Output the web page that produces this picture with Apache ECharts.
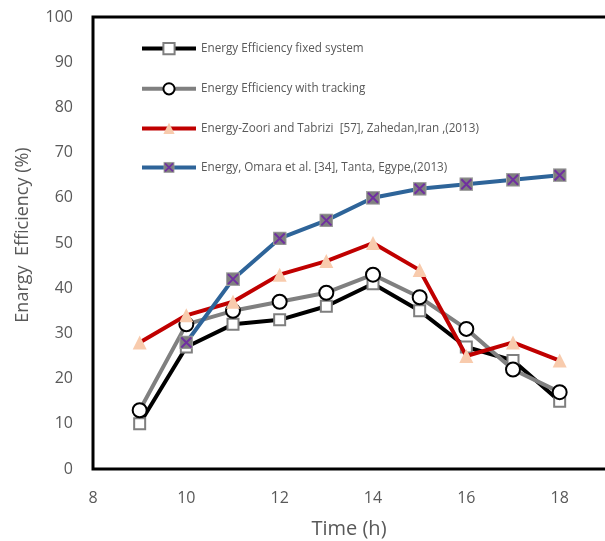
<!DOCTYPE html>
<html>
<head>
<meta charset="utf-8">
<script src="https://cdn.jsdelivr.net/npm/echarts@6/dist/echarts.min.js"></script>
<style>html,body{margin:0;padding:0;background:#fff;overflow:hidden;width:605px;height:541px}#c{width:700px;height:541px}</style>
</head>
<body>
<div id="c"></div>
<script>
const hours = [9, 10, 11, 12, 13, 14, 15, 16, 17, 18];
const fixedSystem = [10, 27, 32, 33, 36, 41, 35, 27, 24, 15];
const withTracking = [13, 32, 35, 37, 39, 43, 38, 31, 22, 17];
const zoori = [28, 34, 37, 43, 46, 50, 44, 25, 28, 24];
const omara = [null, 28, 42, 51, 55, 60, 62, 63, 64, 65];
const seriesNames = [
  'Energy Efficiency fixed system',
  'Energy Efficiency with tracking',
  'Energy-Zoori and Tabrizi  [57], Zahedan,Iran ,(2013)',
  'Energy, Omara et al. [34], Tanta, Egype,(2013)'
];
const yTicks = [0, 10, 20, 30, 40, 50, 60, 70, 80, 90, 100];

function pairs(vals) { return hours.map((h, i) => [h, vals[i]]).filter(p => p[1] !== null); }

const svg = "<svg xmlns='http://www.w3.org/2000/svg' width='14' height='14'><rect x='0.5' y='0.5' width='13' height='13' fill='#7f7f7f' stroke='#a6a6a6' stroke-width='1'/><path d='M2 2L12 12M12 2L2 12' stroke='#7030a0' stroke-width='2'/></svg>";
const omaraSymbol = 'image://data:image/svg+xml;charset=utf-8,' + encodeURIComponent(svg);

const chart = echarts.init(document.getElementById('c'));
const font = 'Open Sans';
chart.setOption({
  animation: false,
  grid: { left: 93, top: 17, width: 560, height: 452, show: true, borderColor: '#000', borderWidth: 3,
          containLabel: false, outerBoundsMode: 'none' },
  legend: {
    orient: 'vertical', left: 135, top: 37, itemWidth: 54, itemHeight: 14, itemGap: 27,
    textStyle: { fontFamily: font, fontSize: 11.7, color: '#595959' },
    lineStyle: { width: 4 },
    data: seriesNames
  },
  xAxis: {
    type: 'value', min: 8, max: 20, interval: 2,
    axisLine: { show: false }, axisTick: { show: false }, splitLine: { show: false },
    axisLabel: { fontFamily: font, fontSize: 16, color: '#595959', margin: 21 },
    name: 'Time (h)', nameLocation: 'middle', nameGap: 50,
    nameTextStyle: { fontFamily: font, fontSize: 20, color: '#595959', padding: [0, 48, 0, 0] }
  },
  yAxis: {
    type: 'value', min: 0, max: 100, interval: 10,
    axisLine: { show: false }, axisTick: { show: false }, splitLine: { show: false },
    axisLabel: { fontFamily: font, fontSize: 16, color: '#595959', margin: 20 },
    name: 'Enargy  Efficiency (%)', nameLocation: 'middle', nameGap: 61,
    nameTextStyle: { fontFamily: font, fontSize: 18, color: '#595959', padding: [0, 0, 0, 16] }
  },
  series: [
    { name: seriesNames[0], type: 'line', data: pairs(fixedSystem), symbol: 'rect', symbolSize: 11,
      lineStyle: { color: '#000', width: 4 }, itemStyle: { color: '#fff', borderColor: '#7f7f7f', borderWidth: 2 }, z: 2 },
    { name: seriesNames[1], type: 'line', data: pairs(withTracking), symbol: 'circle', symbolSize: 14,
      lineStyle: { color: '#808080', width: 4 }, itemStyle: { color: '#fff', borderColor: '#000', borderWidth: 2 }, z: 3 },
    { name: seriesNames[2], type: 'line', data: pairs(zoori), symbol: 'triangle', symbolSize: 14,
      lineStyle: { color: '#c00000', width: 4 }, itemStyle: { color: '#f8cbad', borderWidth: 0 }, z: 4 },
    { name: seriesNames[3], type: 'line', data: pairs(omara), symbol: omaraSymbol, symbolSize: 14,
      lineStyle: { color: '#2e6499', width: 4 }, itemStyle: { color: '#7f7f7f' }, z: 5 }
  ]
});
</script>
</body>
</html>
